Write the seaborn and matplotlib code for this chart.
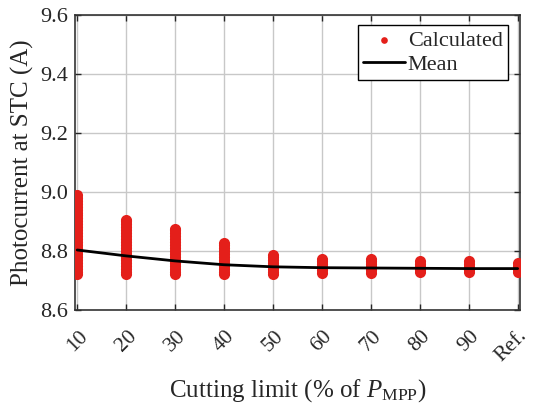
import matplotlib
matplotlib.use("Agg")
import matplotlib.pyplot as plt
import matplotlib.transforms as mtransforms
import pandas as pd
import seaborn as sns

# cutting limits (x categories)
limits = ["10", "20", "30", "40", "50", "60", "70", "80", "90", "Ref."]

# calculated photocurrent samples per cutting limit (A)
calc_10 = [8.72, 8.73, 8.74, 8.75, 8.76, 8.77, 8.78, 8.79, 8.80, 8.81, 8.82, 8.83,
           8.84, 8.85, 8.86, 8.87, 8.88, 8.89, 8.90, 8.91, 8.92, 8.93, 8.94, 8.95,
           8.96, 8.97, 8.98, 8.99]
calc_20 = [8.72, 8.73, 8.74, 8.75, 8.76, 8.77, 8.78, 8.79, 8.80, 8.81, 8.82, 8.83,
           8.84, 8.85, 8.86, 8.87, 8.88, 8.89, 8.90, 8.905]
calc_30 = [8.72, 8.73, 8.74, 8.75, 8.76, 8.77, 8.78, 8.79, 8.80, 8.81, 8.82, 8.83,
           8.84, 8.85, 8.86, 8.87, 8.875]
calc_40 = [8.72, 8.73, 8.74, 8.75, 8.76, 8.77, 8.78, 8.79, 8.80, 8.81, 8.82, 8.825]
calc_50 = [8.722, 8.73, 8.74, 8.75, 8.76, 8.77, 8.78, 8.785]
calc_60 = [8.725, 8.735, 8.745, 8.755, 8.765, 8.772]
calc_70 = [8.725, 8.735, 8.745, 8.755, 8.765, 8.772]
calc_80 = [8.727, 8.735, 8.745, 8.755, 8.765]
calc_90 = [8.727, 8.735, 8.745, 8.755, 8.765]
calc_ref = [8.728, 8.738, 8.748, 8.758]

# mean photocurrent per cutting limit (A)
mean_vals = [8.803, 8.783, 8.766, 8.753, 8.746, 8.743, 8.742, 8.741, 8.740, 8.740]

calc_all = [calc_10, calc_20, calc_30, calc_40, calc_50,
            calc_60, calc_70, calc_80, calc_90, calc_ref]
df = pd.DataFrame(
    [(lim, v) for lim, vals in zip(limits, calc_all) for v in vals],
    columns=["limit", "current"],
)
mean_df = pd.DataFrame({"pos": range(len(limits)), "current": mean_vals})

sns.set_style("ticks")
plt.rcParams["font.family"] = ["Liberation Serif", "DejaVu Serif"]
plt.rcParams["mathtext.fontset"] = "custom"
plt.rcParams["mathtext.rm"] = "Liberation Serif"
plt.rcParams["mathtext.it"] = "Liberation Serif:italic"

fig = plt.figure(figsize=(5.34, 4.11), dpi=100)
ax = fig.add_axes([0.140, 0.246, 0.834, 0.718])

sns.stripplot(data=df, x="limit", y="current", order=limits, jitter=False,
              color="#e41f1a", size=8, linewidth=0, ax=ax,
              label="Calculated", legend=False, zorder=3)
sns.lineplot(data=mean_df, x="pos", y="current", color="black", lw=2,
             ax=ax, label="Mean", zorder=4)

ax.set_xlim(-0.05, 9.05)
ax.set_ylim(8.6, 9.6)
ax.set_yticks([8.6, 8.8, 9.0, 9.2, 9.4, 9.6])
ax.set_xticks(range(len(limits)))
ax.set_xticklabels(limits, rotation=45, ha="center")
ax.grid(True, color="#c8c8c8", lw=1)
ax.set_axisbelow(True)
ax.tick_params(direction="in", top=True, right=True, labelsize=16,
               length=4, width=1, pad=5)
ax.tick_params(axis="x", pad=12, labelsize=15.5)
for s in ax.spines.values():
    s.set_color("#333333")
    s.set_linewidth(1.2)

# keep "Ref." inside the canvas
last = ax.get_xticklabels()[-1]
last.set_transform(last.get_transform() +
                   mtransforms.ScaledTranslation(-5 / 72, 0, fig.dpi_scale_trans))

ax.set_xlabel(r"Cutting limit (% of $\mathit{P}_{\mathrm{MPP}}$)", fontsize=18, labelpad=8)
ax.set_ylabel("Photocurrent at STC (A)", fontsize=18, labelpad=4)

handles, labels = ax.get_legend_handles_labels()
uniq = {}
for h, l in zip(handles, labels):
    uniq.setdefault(l, h)
leg = ax.legend([uniq["Calculated"], uniq["Mean"]], ["Calculated", "Mean"],
                loc="upper right", fontsize=16, frameon=True, fancybox=False,
                edgecolor="black", framealpha=1, handlelength=1.9,
                markerscale=0.6, borderpad=0.25, labelspacing=0.15,
                handletextpad=0.1, borderaxespad=0,
                bbox_to_anchor=(0.973, 0.966))
leg.get_frame().set_linewidth(1.0)

fig.savefig("out.png", dpi=100)
